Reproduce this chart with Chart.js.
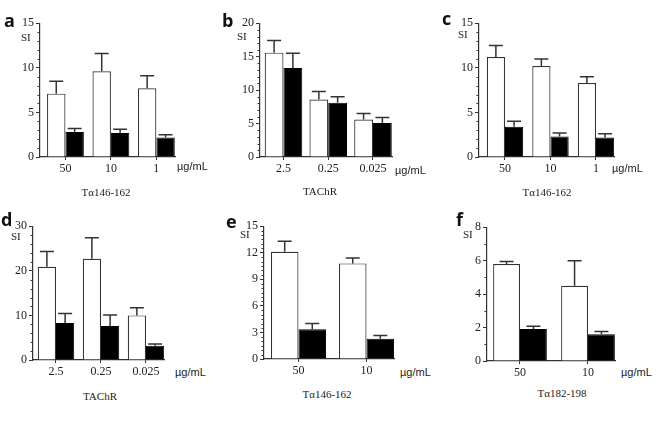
<!DOCTYPE html>
<html lang="en">
  <head>
    <meta charset="UTF-8">
    <title>SI panels</title>
    <script src="https://cdn.jsdelivr.net/npm/chart.js@4.4.7/dist/chart.umd.min.js"></script>
    <style>
    body { margin: 0; background: #fff; }
    #fig { position: relative; width: 659px; height: 425px; overflow: hidden; background: #fff; }
    #fig canvas { position: absolute; }
    .t { position: absolute; white-space: nowrap; line-height: 14px; color: #222; }
    .letter { font: 700 18px "Open Sans", sans-serif; line-height: 18px; color: #111; }
    .si { font: 11px "Liberation Serif", serif; }
    .unit { font: 11px "Liberation Sans", sans-serif; color: #222; }
    .ttl { font: 11px "Liberation Serif", serif; transform: translateX(-50%); }
    </style>
  </head>
  <body>
    <div id="fig"></div>
    <script>
    // panel a: Tα146-162
    const catsA = ['50', '10', '1'];
    const whiteA = [7.1, 9.6, 7.7];
    const whiteErrA = [1.4, 2.0, 1.4];
    const blackA = [2.8, 2.7, 2.2];
    const blackErrA = [0.4, 0.4, 0.3];

    // panel b: TAChR
    const catsB = ['2.5', '0.25', '0.025'];
    const whiteB = [15.6, 8.6, 5.6];
    const whiteErrB = [1.8, 1.2, 0.9];
    const blackB = [13.3, 8.1, 5.1];
    const blackErrB = [2.2, 0.9, 0.8];

    // panel c: Tα146-162
    const catsC = ['50', '10', '1'];
    const whiteC = [11.2, 10.2, 8.3];
    const whiteErrC = [1.3, 0.8, 0.7];
    const blackC = [3.4, 2.3, 2.2];
    const blackErrC = [0.6, 0.4, 0.4];

    // panel d: TAChR
    const catsD = ['2.5', '0.25', '0.025'];
    const whiteD = [20.9, 22.7, 10.0];
    const whiteErrD = [3.4, 4.7, 1.7];
    const blackD = [8.3, 7.6, 3.2];
    const blackErrD = [2.1, 2.5, 0.4];

    // panel e: Tα146-162
    const catsE = ['50', '10'];
    const whiteE = [12.1, 10.8];
    const whiteErrE = [1.2, 0.6];
    const blackE = [3.35, 2.3];
    const blackErrE = [0.65, 0.35];

    // panel f: Tα182-198
    const catsF = ['50', '10'];
    const whiteF = [5.8, 4.5];
    const whiteErrF = [0.15, 1.5];
    const blackF = [1.92, 1.6];
    const blackErrF = [0.16, 0.16];

    Chart.defaults.font.family = '"Liberation Serif", serif';
    Chart.defaults.font.size = 12;
    Chart.defaults.color = '#222';

    const fig = document.getElementById('fig');
    const Y_W = 36, X_H = 26, PAD_T = 8, PAD_R = 4;
    const INK = '#333';

    const errorBars = {
      id: 'errorBars',
      afterDatasetsDraw(chart) {
        const ctx = chart.ctx;
        const y = chart.scales.y;
        ctx.save();
        ctx.strokeStyle = INK;
        ctx.lineWidth = 1.5;
        chart.data.datasets.forEach((ds, di) => {
          chart.getDatasetMeta(di).data.forEach((bar, i) => {
            const v = ds.data[i].y;
            const y0 = y.getPixelForValue(v);
            const y1 = y.getPixelForValue(v + ds.err[i]);
            ctx.beginPath();
            ctx.moveTo(bar.x, y0);
            ctx.lineTo(bar.x, y1);
            ctx.moveTo(bar.x - 7, y1);
            ctx.lineTo(bar.x + 7, y1);
            ctx.stroke();
          });
        });
        ctx.restore();
      },
      afterDraw(chart, args, opts) {
        // short minor ticks on the y axis
        const ctx = chart.ctx;
        const y = chart.scales.y;
        const left = chart.chartArea.left;
        ctx.save();
        ctx.strokeStyle = INK;
        ctx.lineWidth = 1;
        y.ticks.forEach(t => {
          if (opts.isMajor(t.value)) return;
          const py = Math.round(y.getPixelForValue(t.value)) + 0.5;
          ctx.beginPath();
          ctx.moveTo(left - 2.5, py);
          ctx.lineTo(left, py);
          ctx.stroke();
        });
        ctx.restore();
      }
    };

    function addText(cls, text, x, y) {
      const d = document.createElement('div');
      d.className = 't ' + cls;
      d.textContent = text;
      d.style.left = x + 'px';
      d.style.top = y + 'px';
      fig.appendChild(d);
    }

    function panel(p) {
      const cv = document.createElement('canvas');
      const w = p.R - p.L + Y_W + PAD_R;
      const h = p.B - p.T + PAD_T + X_H;
      cv.width = w; cv.height = h;
      cv.style.left = (p.L - Y_W) + 'px';
      cv.style.top = (p.T - PAD_T) + 'px';
      cv.style.width = w + 'px';
      cv.style.height = h + 'px';
      fig.appendChild(cv);
      const isMajor = v => Math.abs(v / p.major - Math.round(v / p.major)) < 1e-6;
      const pts = arr => arr.map((v, i) => ({ x: i, y: v }));
      new Chart(cv.getContext('2d'), {
        type: 'bar',
        data: {
          datasets: [
            { data: pts(p.white), err: p.whiteErr, backgroundColor: '#fff', borderColor: INK, borderWidth: 1.2 },
            { data: pts(p.black), err: p.blackErr, backgroundColor: '#000', borderColor: '#000', borderWidth: 1 }
          ]
        },
        options: {
          responsive: false,
          animation: false,
          events: [],
          layout: { padding: { top: PAD_T, right: PAD_R, left: 0, bottom: 0 } },
          categoryPercentage: p.catPct,
          barPercentage: 1,
          plugins: { legend: { display: false }, tooltip: { enabled: false }, errorBars: { isMajor } },
          scales: {
            x: {
              type: 'linear',
              min: p.xMin,
              max: p.xMax,
              offset: false,
              afterBuildTicks: s => { s.ticks = p.cats.map((_, i) => ({ value: i })); },
              afterFit: s => { s.height = X_H; },
              ticks: { callback: v => p.cats[v], padding: 2, maxRotation: 0, autoSkip: false },
              grid: { display: true, drawOnChartArea: false, offset: false, tickLength: 3, tickColor: INK },
              border: { color: INK, width: 1.2 }
            },
            y: {
              min: 0,
              max: p.yMax,
              afterFit: s => { s.width = Y_W; },
              ticks: {
                stepSize: p.minor,
                autoSkip: false,
                padding: 2,
                callback: v => (isMajor(v) ? Math.round(v) : '')
              },
              grid: {
                drawOnChartArea: false,
                tickLength: 4,
                tickColor: c => (c.tick && isMajor(c.tick.value) ? INK : 'rgba(0,0,0,0)')
              },
              border: { color: INK, width: 1.2 }
            }
          }
        },
        plugins: [errorBars]
      });
      addText('letter', p.letter, p.letterX, p.letterY);
      addText('si', 'SI', p.siX, p.siY);
      addText('unit', 'µg/mL', p.unitX, p.unitY);
      addText('ttl', p.title, p.titleX, p.titleY);
    }

    panel({ letter: 'a', title: 'Tα146-162', cats: catsA, white: whiteA, whiteErr: whiteErrA, black: blackA, blackErr: blackErrA,
      yMax: 15, major: 5, minor: 1, L: 40, R: 175, T: 22, B: 157, xMin: -0.56, xMax: 2.41, catPct: 0.81,
      letterX: 4, letterY: 11, siX: 21, siY: 31, unitX: 177, unitY: 160, titleX: 106, titleY: 186 });
    panel({ letter: 'b', title: 'TAChR', cats: catsB, white: whiteB, whiteErr: whiteErrB, black: blackB, blackErr: blackErrB,
      yMax: 20, major: 5, minor: 1, L: 260, R: 392, T: 22, B: 157, xMin: -0.525, xMax: 2.425, catPct: 0.84,
      letterX: 222, letterY: 11, siX: 237, siY: 30, unitX: 395, unitY: 164, titleX: 320, titleY: 185 });
    panel({ letter: 'c', title: 'Tα146-162', cats: catsC, white: whiteC, whiteErr: whiteErrC, black: blackC, blackErr: blackErrC,
      yMax: 15, major: 5, minor: 1, L: 479, R: 614, T: 22, B: 157, xMin: -0.571, xMax: 2.396, catPct: 0.80,
      letterX: 442, letterY: 9, siX: 458, siY: 28, unitX: 612, unitY: 162, titleX: 547, titleY: 186 });
    panel({ letter: 'd', title: 'TAChR', cats: catsD, white: whiteD, whiteErr: whiteErrD, black: blackD, blackErr: blackErrD,
      yMax: 30, major: 10, minor: 2, L: 33, R: 164, T: 225, B: 360, xMin: -0.511, xMax: 2.40, catPct: 0.81,
      letterX: 1, letterY: 210, siX: 11, siY: 230, unitX: 175, unitY: 366, titleX: 100, titleY: 390 });
    panel({ letter: 'e', title: 'Tα146-162', cats: catsE, white: whiteE, whiteErr: whiteErrE, black: blackE, blackErr: blackErrE,
      yMax: 15, major: 3, minor: 0.5, L: 264, R: 394, T: 225, B: 359, xMin: -0.507, xMax: 1.404, catPct: 0.81,
      letterX: 226, letterY: 212, siX: 240, siY: 228, unitX: 400, unitY: 366, titleX: 327, titleY: 388 });
    panel({ letter: 'f', title: 'Tα182-198', cats: catsF, white: whiteF, whiteErr: whiteErrF, black: blackF, blackErr: blackErrF,
      yMax: 8, major: 2, minor: 1, L: 487, R: 615, T: 226, B: 361, xMin: -0.485, xMax: 1.397, catPct: 0.79,
      letterX: 456, letterY: 210, siX: 463, siY: 228, unitX: 621, unitY: 366, titleX: 562, titleY: 387 });
    </script>
  </body>
</html>
